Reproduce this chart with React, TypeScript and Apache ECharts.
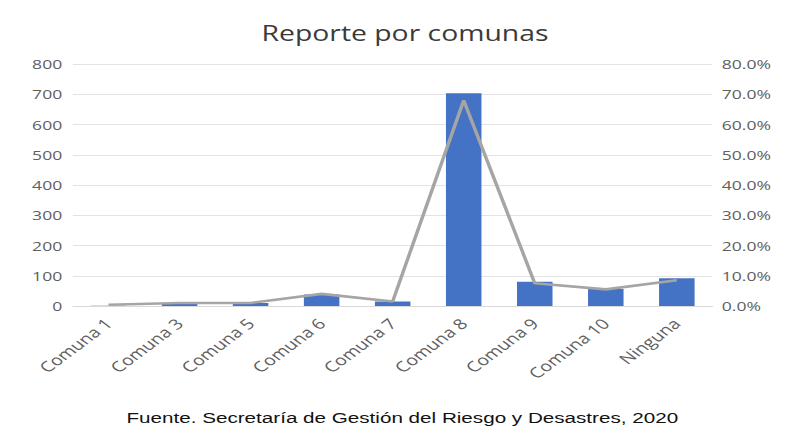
import React, { useEffect, useRef } from "react";
import * as echarts from "echarts";

const categories = ["Comuna 1", "Comuna 3", "Comuna 5", "Comuna 6", "Comuna 7", "Comuna 8", "Comuna 9", "Comuna 10", "Ninguna"];
const reportes = [1, 10, 10, 38, 15, 703, 80, 56, 92];
const porcentajes = [0.4, 1.0, 1.0, 4.0, 1.5, 68.0, 7.5, 5.5, 8.5];
const leftTicks = [0, 100, 200, 300, 400, 500, 600, 700, 800];
const rightTicks = [0, 10, 20, 30, 40, 50, 60, 70, 80];
const title = "Reporte por comunas";
const source = "Fuente. Secretaría de Gestión del Riesgo y Desastres, 2020";

// The reference picture is stretched horizontally; reproduce that with a CSS scale.
const STRETCH = 1.35;
const FULL_W = 785;
const FULL_H = 435;
const INNER_W = FULL_W / STRETCH;

export default function App() {
  const ref = useRef<HTMLDivElement>(null);
  useEffect(() => {
    if (!ref.current) return;
    const chart = echarts.init(ref.current, undefined, { renderer: "svg" });
    const labelFont = "'Open Sans', Lato, sans-serif";
    chart.setOption({
      animation: false,
      backgroundColor: "#ffffff",
      title: {
        text: title,
        left: 295,
        top: 17,
        textAlign: "center",
        textStyle: { fontFamily: labelFont, fontSize: 21, fontWeight: "normal", color: "#3a3a3a" },
      },
      graphic: [
        {
          type: "text",
          x: 298,
          y: 410,
          style: {
            text: source,
            font: "15.3px 'Liberation Sans', Arial, sans-serif",
            fill: "#111111",
            textAlign: "center",
          },
        },
      ],
      grid: { left: 73 / STRETCH, right: 72 / STRETCH, top: 64, bottom: 129 },
      xAxis: {
        type: "category",
        data: categories,
        axisTick: { show: false },
        axisLine: { show: true, lineStyle: { color: "#d9d9d9" } },
        axisLabel: {
          rotate: 45,
          color: "#606060",
          fontFamily: labelFont,
          fontSize: 14.5,
          margin: 15,
          interval: 0,
        },
      },
      yAxis: [
        {
          type: "value",
          min: leftTicks[0],
          max: leftTicks[leftTicks.length - 1],
          interval: leftTicks[1] - leftTicks[0],
          axisLine: { show: false },
          axisTick: { show: false },
          splitLine: { lineStyle: { color: "#e3e3e3" } },
          axisLabel: { color: "#606060", fontFamily: labelFont, fontSize: 13, margin: 8 },
        },
        {
          type: "value",
          min: rightTicks[0],
          max: rightTicks[rightTicks.length - 1],
          interval: rightTicks[1] - rightTicks[0],
          axisLine: { show: false },
          axisTick: { show: false },
          splitLine: { show: false },
          axisLabel: {
            color: "#606060",
            fontFamily: labelFont,
            fontSize: 13,
            margin: 7,
            formatter: (v: number) => v.toFixed(1) + "%",
          },
        },
      ],
      series: [
        {
          type: "bar",
          data: reportes,
          barWidth: "50%",
          itemStyle: { color: "#4472c4" },
          yAxisIndex: 0,
        },
        {
          type: "line",
          data: porcentajes,
          yAxisIndex: 1,
          symbol: "none",
          lineStyle: { color: "#a5a5a5", width: 2.6 },
        },
      ],
    });
    return () => chart.dispose();
  }, []);
  return (
    <div style={{ position: "absolute", left: 0, top: 0, width: FULL_W, height: FULL_H, overflow: "hidden", background: "#fff" }}>
      <div
        ref={ref}
        style={{
          width: INNER_W,
          height: FULL_H,
          transform: `scaleX(${STRETCH})`,
          transformOrigin: "0 0",
        }}
      />
    </div>
  );
}
